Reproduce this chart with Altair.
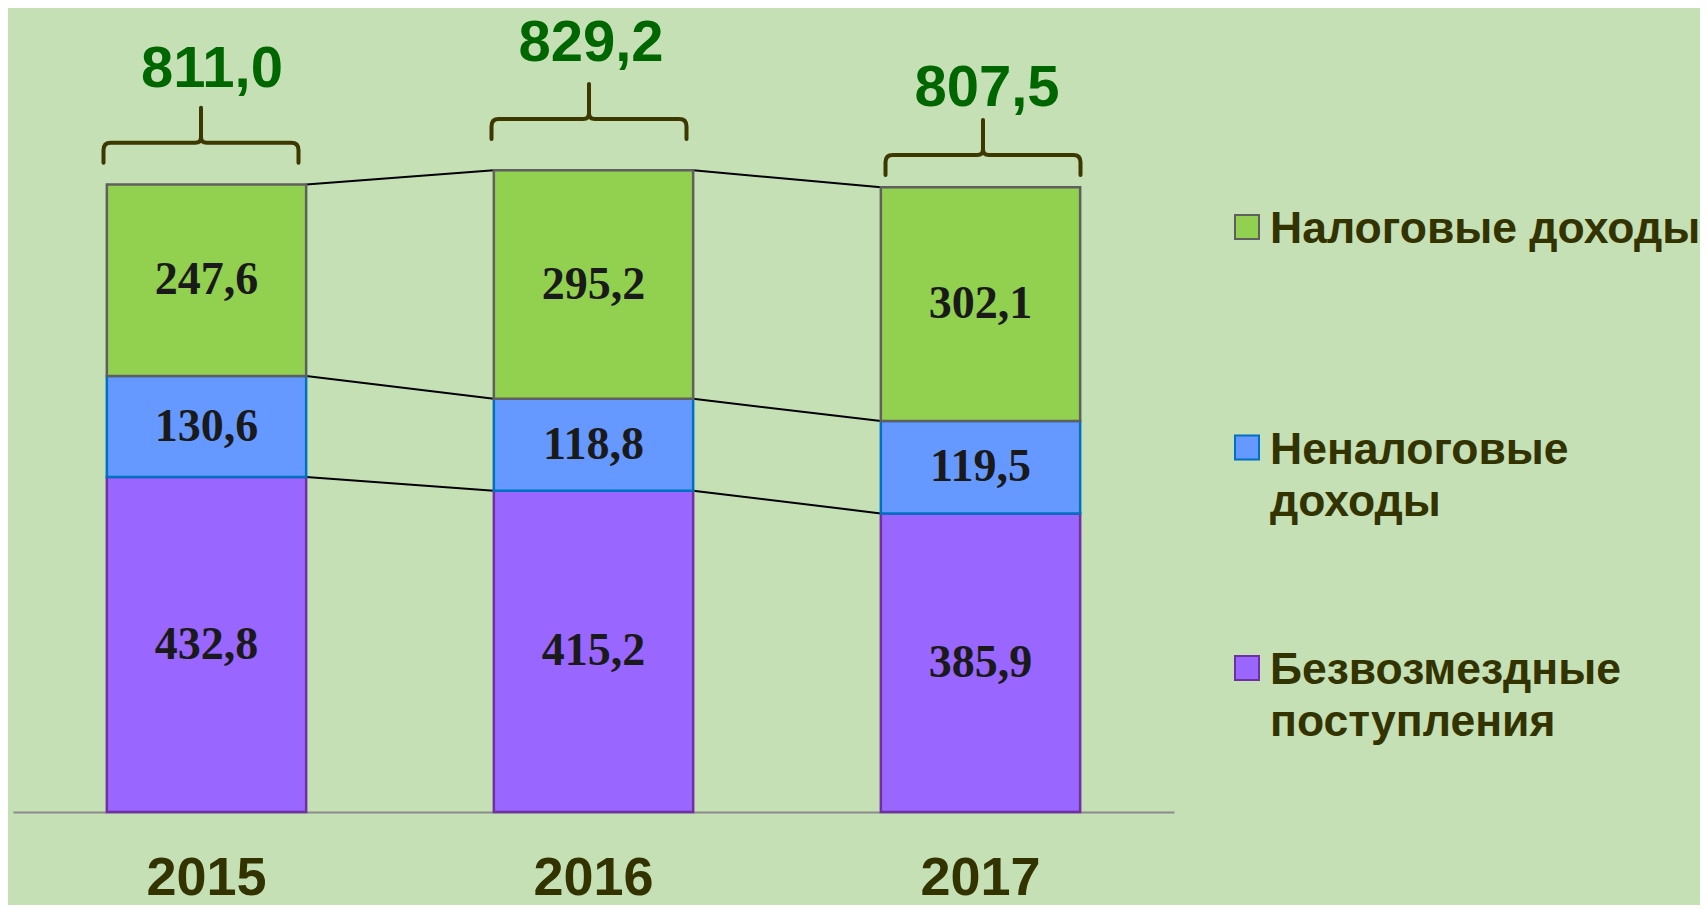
import altair as alt
import pandas as pd

# ---------------- data ----------------
years = ["2015", "2016", "2017"]
# series listed bottom -> top of the stack
series = ["Безвозмездные поступления", "Неналоговые доходы", "Налоговые доходы"]
gratuitous = [432.8, 415.2, 385.9]   # Безвозмездные поступления
nontax = [130.6, 118.8, 119.5]       # Неналоговые доходы
tax = [247.6, 295.2, 302.1]          # Налоговые доходы
totals = [811.0, 829.2, 807.5]

legend_order = ["Налоговые доходы", "Неналоговые доходы", "Безвозмездные поступления"]
legend_text = ["Налоговые доходы", "Неналоговые\nдоходы", "Безвозмездные\nпоступления"]

# ---------------- styles ----------------
fills = ["#9966FF", "#6699FF", "#92D050"]
strokes = ["#7030A0", "#0070C0", "#5F5F5F"]
BG = "#C5E0B4"
DARK = "#333300"
BRACE = "#3D3700"
TOTAL_GREEN = "#006600"

W, H = 1161, 804
YMAX = 1039

def fmt(v):
    return f"{v:.1f}".replace(".", ",")

series_vals = [gratuitous, nontax, tax]

rows = []
for i, yr in enumerate(years):
    start = 0.0
    for s, vals in zip(series, series_vals):
        end = start + vals[i]
        rows.append({"year": yr, "series": s, "start": start, "end": end,
                     "mid": (start + end) / 2, "label": fmt(vals[i])})
        start = end
bars_df = pd.DataFrame(rows)

# connector lines between adjacent bars at each stack boundary
conn = []
for k in range(len(series)):
    cum = [sum(series_vals[j][i] for j in range(k + 1)) for i in range(len(years))]
    for i in range(len(years) - 1):
        conn.append({"year": years[i], "year2": years[i + 1], "v": cum[i], "v2": cum[i + 1]})
conn_df = pd.DataFrame(conn)

tot_df = pd.DataFrame({"year": years, "total": totals, "label": [fmt(t) for t in totals]})
leg_df = pd.DataFrame({"series": legend_order, "label": legend_text})

x_scale = alt.Scale(domain=years, paddingInner=0.485, paddingOuter=0.2425)
y_scale = alt.Scale(domain=[0, YMAX], nice=False, zero=True)
fill_scale = alt.Scale(domain=series, range=fills)
stroke_scale = alt.Scale(domain=series, range=strokes)

x_enc = alt.X("year:N", scale=x_scale, sort=years, title=None,
              axis=alt.Axis(labelAngle=0, labelAlign="center", ticks=False, tickSize=0,
                            domainColor="#8C8C8C", domainWidth=2,
                            labelFont="Liberation Sans", labelFontWeight="bold",
                            labelFontSize=54, labelColor=DARK, labelPadding=39,
                            labelBaseline="top", grid=False))

base = alt.Chart(bars_df)

bars = base.mark_bar(strokeWidth=2.5).encode(
    x=x_enc,
    y=alt.Y("end:Q", scale=y_scale, axis=None),
    y2="start:Q",
    fill=alt.Fill("series:N", scale=fill_scale, legend=None),
    stroke=alt.Stroke("series:N", scale=stroke_scale, legend=None),
)

bar_labels = base.mark_text(font="Liberation Serif", fontWeight="bold", fontSize=46,
                            color="#1A1A1A", baseline="middle", align="center").encode(
    x=alt.X("year:N", scale=x_scale, sort=years),
    y=alt.Y("mid:Q", scale=y_scale, axis=None),
    text="label:N",
)

connectors = alt.Chart(conn_df).mark_rule(color="black", strokeWidth=2).encode(
    x=alt.X("year:N", scale=x_scale, sort=years, bandPosition=1),
    x2=alt.X2("year2:N", bandPosition=0),
    y=alt.Y("v:Q", scale=y_scale, axis=None),
    y2="v2:Q",
)

BRACE_PATH = ("M -1 0.205 L -1 0.075 Q -1 0 -0.925 0 L -0.06 0 Q 0 0 0 -0.06 L 0 -0.36 "
              "M 0 -0.06 Q 0 0 0.06 0 L 0.925 0 Q 1 0 1 0.075 L 1 0.205")

brace_dy = {"2015": -41.7, "2016": -51.3, "2017": -32.1}
brace_dx = {"2015": -5.5, "2016": -4.5, "2017": 2.5}
total_dy = {"2015": -97.7, "2016": -109.0, "2017": -81.1}
total_dx = {"2015": 5.5, "2016": -2.5, "2017": 6.5}

tot_layers = []
for yr in years:
    tb = alt.Chart(tot_df).transform_filter(alt.datum.year == yr)
    tot_layers.append(
        tb.mark_point(shape=BRACE_PATH, filled=False, size=195 * 195, strokeWidth=4,
                      color=BRACE, opacity=1, strokeJoin="round", strokeCap="round",
                      yOffset=brace_dy[yr], xOffset=brace_dx[yr]).encode(
            x=alt.X("year:N", scale=x_scale, sort=years),
            y=alt.Y("total:Q", scale=y_scale, axis=None),
        )
    )
    tot_layers.append(
        tb.mark_text(font="Liberation Sans", fontWeight="bold", fontSize=58,
                     color=TOTAL_GREEN, baseline="alphabetic", align="center",
                     yOffset=total_dy[yr], xOffset=total_dx[yr]).encode(
            x=alt.X("year:N", scale=x_scale, sort=years),
            y=alt.Y("total:Q", scale=y_scale, axis=None),
            text="label:N",
        )
    )

main = alt.layer(connectors, bars, bar_labels, *tot_layers)

leg_y = alt.Y("series:N", scale=alt.Scale(domain=legend_order, range=[219, 660], padding=0),
              axis=None)
leg_sym = alt.Chart(leg_df).mark_square(size=576, strokeWidth=2, opacity=1).encode(
    x=alt.value(1234),
    y=leg_y,
    fill=alt.Fill("series:N", scale=fill_scale, legend=None),
    stroke=alt.Stroke("series:N", scale=stroke_scale, legend=None),
)
leg_txt = alt.Chart(leg_df).mark_text(font="Liberation Sans", fontWeight="bold", fontSize=44.5,
                                       color=DARK, align="left", baseline="top", dx=23, dy=-19,
                                       lineBreak="\n", lineHeight=52).encode(
    x=alt.value(1234),
    y=leg_y,
    text="label:N",
)
legend = alt.layer(leg_sym, leg_txt)

chart = alt.layer(main, legend).resolve_scale(y="independent").properties(
    width=W, height=H,
    background=BG,
    autosize=alt.AutoSizeParams(type="none"),
    padding={"left": 5, "top": 0, "right": 1692 - 5 - W, "bottom": 897 - H},
).configure_view(stroke=None)

chart.save("out.html", embed_options={"renderer": "svg", "actions": False})
